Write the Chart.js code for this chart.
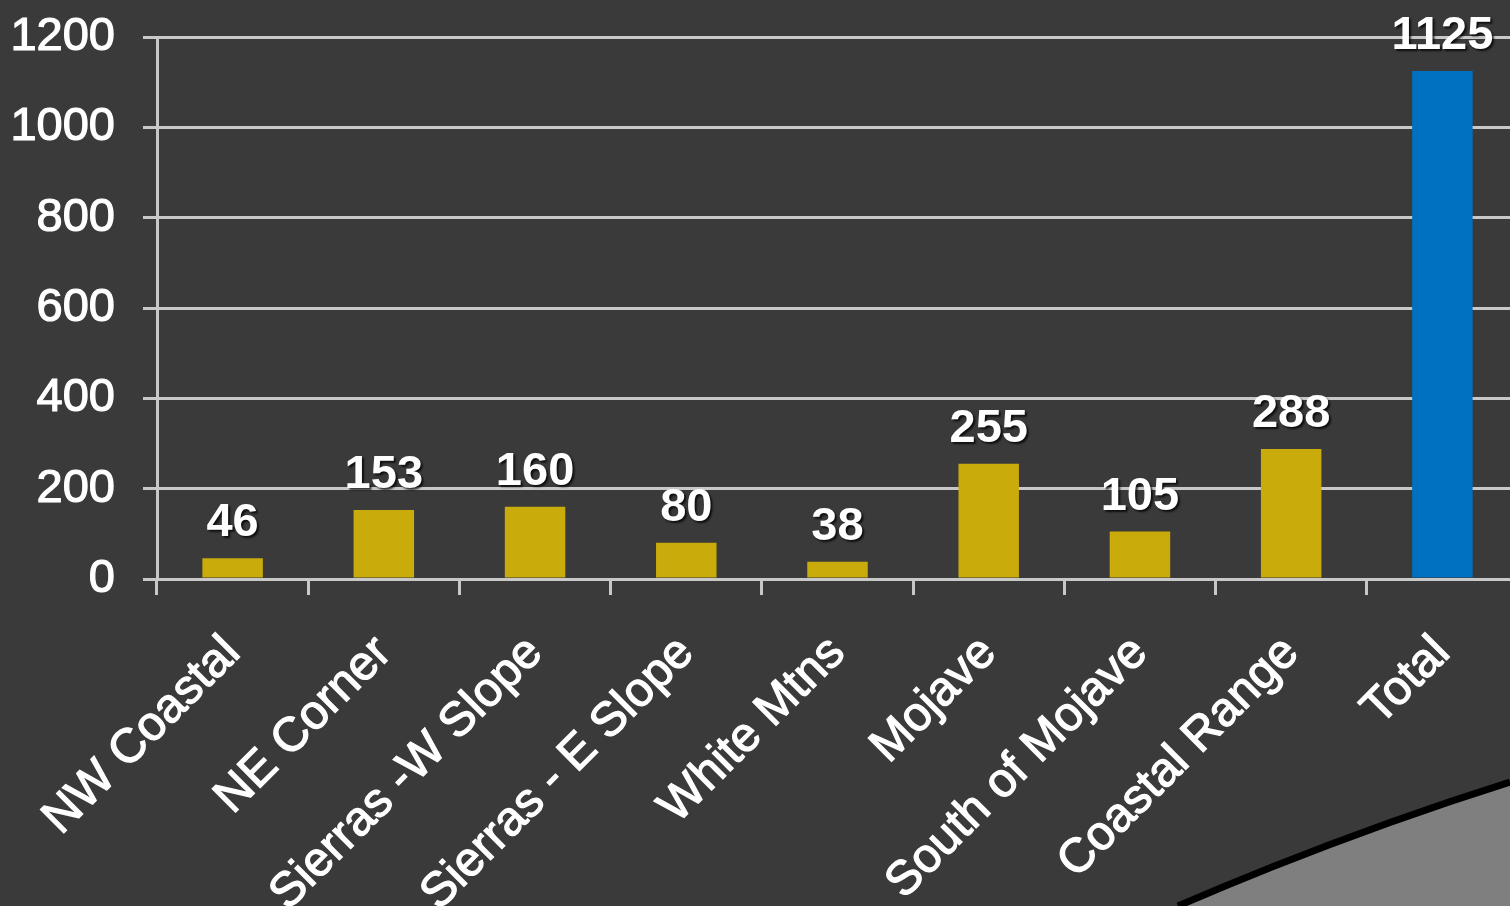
<!DOCTYPE html>
<html>
<head>
<meta charset="utf-8">
<script src="https://cdn.jsdelivr.net/npm/chart.js@4"></script>
<style>
  html, body { margin: 0; padding: 0; background: #3a3a3a; overflow: hidden; width: 1510px; height: 906px; }
  #wrap { position: absolute; left: 0; top: 0; width: 1518px; height: 906px; }
  #deco { position: absolute; left: 0; top: 0; width: 1510px; height: 906px; }
</style>
</head>
<body>
<svg id="deco" width="1510" height="906" viewBox="0 0 1510 906">
  <path d="M1178,906 Q1345,834 1510,782 L1510,906 Z" fill="#7f7f7f" />
  <path d="M1178,906 Q1345,834 1510,782" fill="none" stroke="#000" stroke-width="7" />
</svg>
<div id="wrap"><canvas id="c"></canvas></div>
<script>
const categories = ["NW Coastal", "NE Corner", "Sierras -W Slope", "Sierras - E Slope", "White Mtns", "Mojave", "South of Mojave", "Coastal Range", "Total"];
const values = [46, 153, 160, 80, 38, 255, 105, 288, 1125];
const barColors = ["#c9ab0c", "#c9ab0c", "#c9ab0c", "#c9ab0c", "#c9ab0c", "#c9ab0c", "#c9ab0c", "#c9ab0c", "#0070c0"];
const yTicks = [0, 200, 400, 600, 800, 1000, 1200];

const FONT = "'Liberation Sans', Arial, sans-serif";

const valueLabels = {
  id: 'valueLabels',
  afterDatasetsDraw(chart) {
    const ctx = chart.ctx;
    const meta = chart.getDatasetMeta(0);
    ctx.save();
    ctx.font = "bold 47px " + FONT;
    ctx.textAlign = 'center';
    ctx.textBaseline = 'alphabetic';
    ctx.shadowColor = 'rgba(0,0,0,0.75)';
    ctx.shadowOffsetX = 2;
    ctx.shadowOffsetY = 2;
    ctx.shadowBlur = 2;
    ctx.fillStyle = '#ffffff';
    meta.data.forEach((bar, i) => {
      ctx.fillText(String(values[i]), bar.x, bar.y - 22);
    });
    ctx.restore();
  }
};

new Chart(document.getElementById('c'), {
  type: 'bar',
  data: {
    labels: categories,
    datasets: [{
      data: values,
      backgroundColor: barColors,
      borderColor: barColors,
      borderWidth: 0,
      barPercentage: 0.4,
      categoryPercentage: 1.0
    }]
  },
  options: {
    responsive: true,
    maintainAspectRatio: false,
    animation: false,
    devicePixelRatio: 1,
    layout: { padding: { top: 37, left: 0, right: 0, bottom: 0 } },
    plugins: { legend: { display: false }, tooltip: { enabled: false } },
    scales: {
      x: {
        grid: {
          display: true,
          offset: true,
          drawOnChartArea: false,
          drawTicks: true,
          tickLength: 16,
          color: '#c8c8c8',
          lineWidth: 3
        },
        border: { display: true, color: '#c8c8c8', width: 3 },
        ticks: {
          color: '#ffffff',
          textStrokeColor: '#ffffff',
          textStrokeWidth: 1.2,
          font: { family: FONT, size: 48 },
          maxRotation: 45,
          minRotation: 45,
          padding: 30,
          autoSkip: false
        },
        afterFit(scale) { scale.height = 327; }
      },
      y: {
        min: 0,
        max: 1200,
        afterBuildTicks(scale) { scale.ticks = yTicks.map(v => ({ value: v })); },
        grid: {
          color: '#c8c8c8',
          lineWidth: 3,
          drawTicks: true,
          tickLength: 14
        },
        border: { display: true, color: '#c8c8c8', width: 3 },
        ticks: {
          color: '#ffffff',
          textStrokeColor: '#ffffff',
          textStrokeWidth: 1.2,
          font: { family: FONT, size: 47 },
          padding: 28,
          callback: (v) => String(v)
        },
        afterFit(scale) { scale.width = 157; scale.paddingTop = 0; scale.paddingBottom = 0; }
      }
    }
  },
  plugins: [valueLabels]
});
</script>
</body>
</html>
